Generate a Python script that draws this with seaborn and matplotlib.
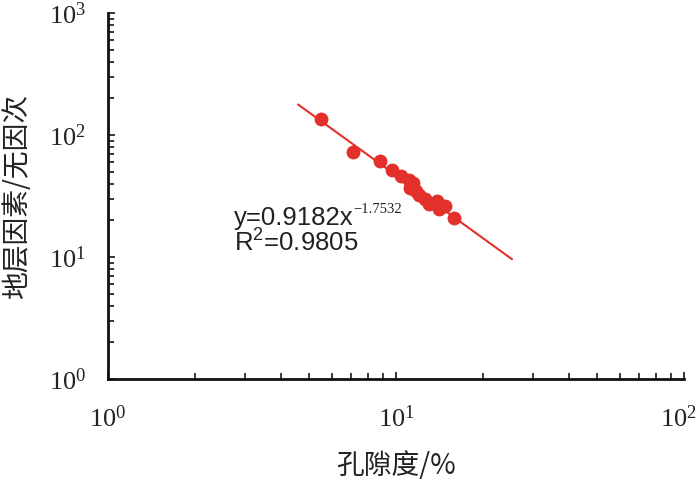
import numpy as np
import pandas as pd
import matplotlib
matplotlib.use("Agg")
import matplotlib.pyplot as plt
import matplotlib.ticker as mticker
import matplotlib.transforms as mtransforms
import seaborn as sns

# Data
porosity = [5.50, 7.10, 8.78, 9.68, 10.4, 11.07, 11.5, 11.2, 11.7, 12.0,
            12.6, 13.0, 13.9, 14.1, 14.8, 15.9]
formation_factor = [135, 73.2, 61.1, 51.7, 45.8, 42.7, 40.6, 36.7, 34.5, 32.0,
                    29.7, 27.2, 28.8, 24.8, 26.4, 20.7]
line_x = [4.57, 25.3]
line_y = [178, 9.58]
eq_text = "y=0.9182x"
eq_exp = "\u22121.7532"
r2_text = r"R$\mathregular{^{2}}$=0.9805"
xlabel = "孔隙度/%"
ylabel = "地层因素/无因次"

sns.set_style("ticks")
plt.rcParams['font.family'] = ['Noto Sans CJK SC', 'DejaVu Sans']

red = "#e4302b"
txt = "#222222"

fig = plt.figure(figsize=(7, 4.83), dpi=100)
ax = fig.add_axes([108/700, 1-379/483, (684-108)/700, (379-13)/483])

df = pd.DataFrame({"x": porosity, "y": formation_factor})
ldf = pd.DataFrame({"x": line_x, "y": line_y})
sns.lineplot(data=ldf, x="x", y="y", ax=ax, color=red, lw=1.5)
sns.scatterplot(data=df, x="x", y="y", ax=ax, color=red, s=100, edgecolor=red, linewidth=0, zorder=3)

ax.set_xscale("log")
ax.set_yscale("log")
ax.set_xlim(1, 100)
ax.set_ylim(1, 1000)

def fmt(v, pos):
    e = int(round(np.log10(v)))
    return r"$\mathregular{10^{%d}}$" % e

ax.xaxis.set_major_locator(mticker.LogLocator(base=10, numticks=10))
ax.yaxis.set_major_locator(mticker.LogLocator(base=10, numticks=10))
ax.xaxis.set_minor_locator(mticker.LogLocator(base=10, subs=np.arange(2, 10), numticks=20))
ax.yaxis.set_minor_locator(mticker.LogLocator(base=10, subs=np.arange(2, 10), numticks=20))
ax.xaxis.set_major_formatter(mticker.FuncFormatter(fmt))
ax.yaxis.set_major_formatter(mticker.FuncFormatter(fmt))
ax.xaxis.set_minor_formatter(mticker.NullFormatter())
ax.yaxis.set_minor_formatter(mticker.NullFormatter())

ax.tick_params(which="major", direction="in", length=5, width=1.1, color="black",
               labelsize=19, labelcolor=txt)
ax.tick_params(which="minor", direction="in", length=4, width=1.1, color="black")
ax.tick_params(axis="x", which="major", pad=19)
ax.tick_params(axis="y", which="major", pad=16)

for lab in ax.get_xticklabels() + ax.get_yticklabels():
    lab.set_fontfamily("Liberation Serif")

for s in ["top", "right"]:
    ax.spines[s].set_visible(False)
for s in ["left", "bottom"]:
    ax.spines[s].set_linewidth(2.0)
    ax.spines[s].set_color("#111111")

ax.set_xlabel(xlabel, fontsize=20, color=txt, labelpad=14)
ax.set_ylabel(ylabel, fontsize=20, color=txt, labelpad=12)

# shift the last x tick label slightly left so it stays inside
fig.canvas.draw()
for lab in ax.get_xticklabels():
    if lab.get_text().endswith("{2}}$"):
        lab.set_transform(lab.get_transform() + mtransforms.ScaledTranslation(-6/100, 0, fig.dpi_scale_trans))

# equation annotation
fig.text(234/700, 1-225/483, eq_text, fontsize=18.5, family="Liberation Sans",
         color=txt, ha="left", va="baseline")
fig.text(353/700, 1-213/483, eq_exp, fontsize=10.5, family="Liberation Serif",
         color=txt, ha="left", va="baseline")
fig.text(234/700, 1-252/483, r2_text, fontsize=18.5, family="Liberation Sans",
         color=txt, ha="left", va="baseline")

fig.savefig("out.png", dpi=100)
